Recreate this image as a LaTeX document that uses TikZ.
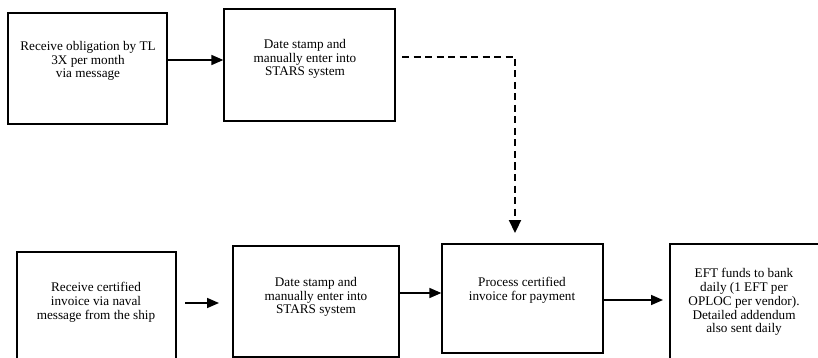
\documentclass[tikz,border=0pt]{standalone}
\usepackage{fontspec}
\setmainfont{Liberation Serif}
\usetikzlibrary{arrows.meta}
\begin{document}
\begin{tikzpicture}[x=1pt,y=-1pt,
  box/.style={draw, line width=1.3pt, rectangle},
  txt/.style={align=center, font=\fontsize{13.2}{13.8}\selectfont, inner sep=0pt},
  flow/.style={line width=1.6pt, -{Triangle[length=12pt,width=10pt]}},
  dashflow/.style={line width=2.2pt, dash pattern=on 7pt off 4.5pt, -{Triangle[length=13pt,width=12pt]}}]
\clip (0,0) rectangle (818,358);
\fill[white] (0,0) rectangle (818,358);

% upper row
\node[box, minimum width=159pt, minimum height=111pt] (b1) at (87.5,68.5) {};
\node[txt] (t1) at (88,61) {Receive obligation by TL\\3X per month\\via message};
\node[box, minimum width=171pt, minimum height=112pt] (b2) at (309.5,65) {};
\node[txt] (t2) at (305,59) {Date stamp and\\manually enter into\\STARS system};

% lower row
\node[box, minimum width=159pt, minimum height=116pt] (c1) at (96.5,310) {};
\node[txt] (u1) at (96,302) {Receive certified\\invoice via naval\\message from the ship};
\node[box, minimum width=166pt, minimum height=111pt] (c2) at (316,301.5) {};
\node[txt] (u2) at (316,297) {Date stamp and\\manually enter into\\STARS system};
\node[box, minimum width=161pt, minimum height=109pt] (c3) at (522.5,298.5) {};
\node[txt] (u3) at (522,290) {Process certified\\invoice for payment};
\node[box, minimum width=155pt, minimum height=120pt] (c4) at (747.5,304) {};
\node[txt] (u4) at (744,302) {EFT funds to bank\\daily (1 EFT per\\OPLOC per vendor).\\Detailed addendum\\also sent daily};

% connectors
\draw[flow] (b1.east |- 0,60) -- (b2.west |- 0,60);
\coordinate (d0) at (402,57);
\coordinate (d1) at (515,57);
\coordinate (d2) at (515,233);
\draw[dashflow] (d0) -- (d1) -- (d2);
\coordinate (a0) at (185,303);
\coordinate (a1) at (219,303);
\draw[flow] (a0) -- (a1);
\draw[flow] (c2.east |- 0,293) -- (c3.west |- 0,293);
\coordinate (e1) at (663,300);
\draw[flow] (c3.east |- 0,300) -- (e1);
\end{tikzpicture}
\end{document}
